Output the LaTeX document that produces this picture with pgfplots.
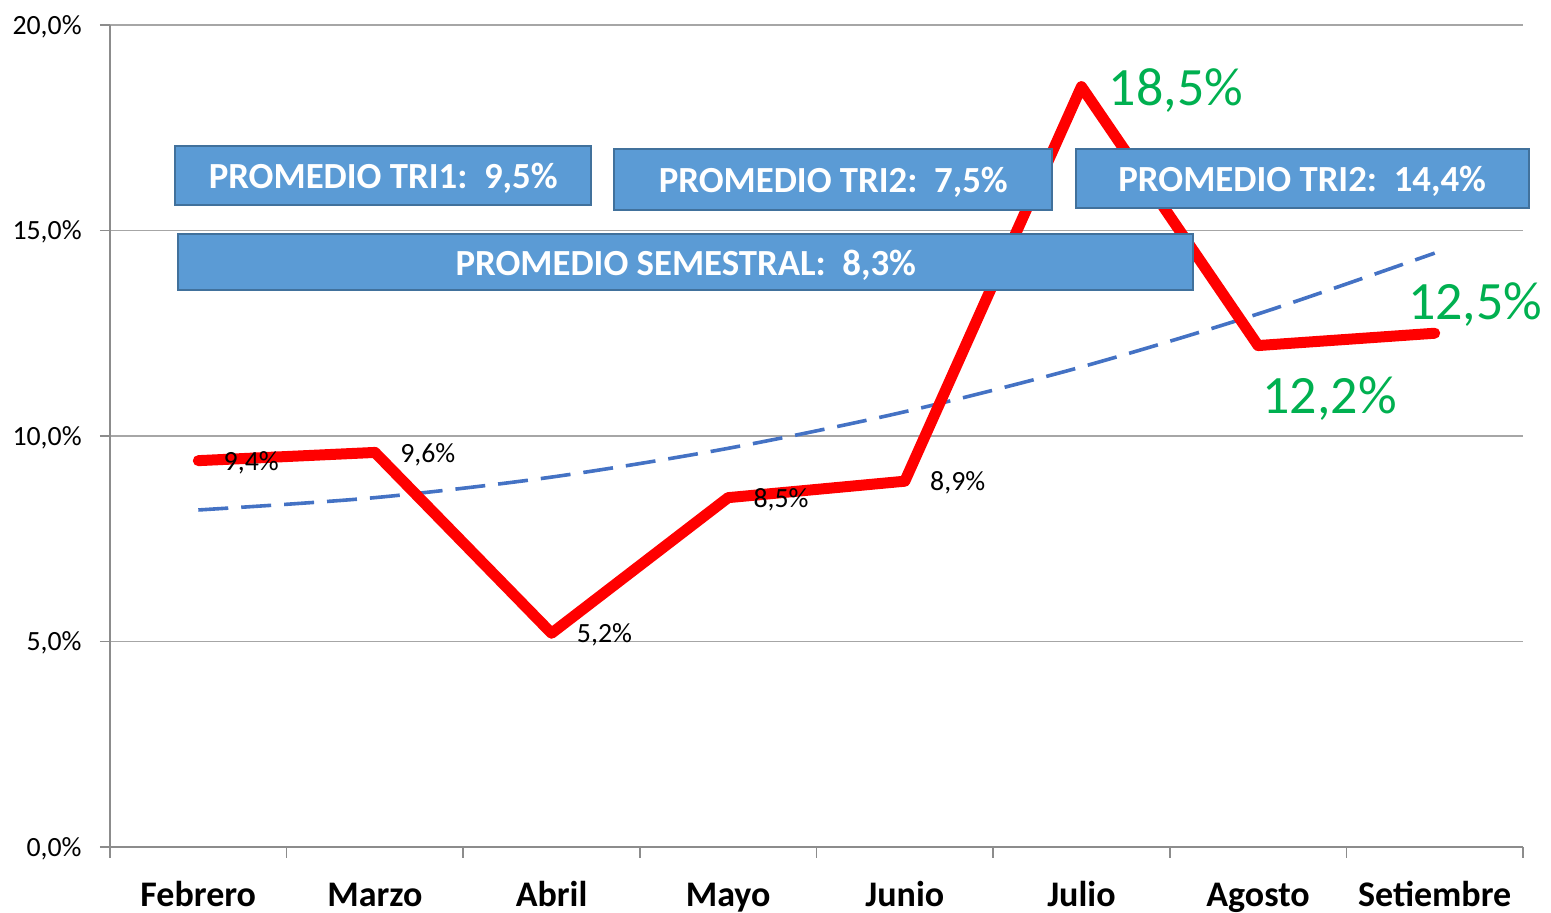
\documentclass[border=0pt]{standalone}
\usepackage{fontspec}
\setmainfont{Carlito}
\usepackage{pgfplots}
\pgfplotsset{compat=1.18}
\definecolor{redl}{HTML}{FF0000}
\definecolor{trend}{HTML}{4472C4}
\definecolor{boxfill}{HTML}{5B9BD5}
\definecolor{boxdraw}{HTML}{41719C}
\definecolor{greenl}{HTML}{00B050}
\definecolor{gridc}{HTML}{A6A6A6}
\definecolor{axisc}{HTML}{8C8C8C}
\begin{document}
\begin{tikzpicture}
\begin{axis}[
  at={(0,0)}, anchor=south west,
  scale only axis, width=706.5pt, height=411pt,
  xmin=-0.5, xmax=7.5, ymin=0, ymax=20,
  clip=false,
  /pgf/number format/assume math mode=true,
  axis x line*=bottom, axis y line*=left,
  axis line style={draw=axisc, line width=0.8pt, -},
  ymajorgrids, grid style={draw=gridc, line width=0.8pt},
  ytick={0,5,10,15,20},
  yticklabel={\pgfmathprintnumber[fixed,fixed zerofill,precision=1,use comma]{\tick}\%},
  yticklabel style={font=\fontsize{13.9}{16}\selectfont, anchor=base east, inner sep=0pt, xshift=-9pt, yshift=-4.6pt},
  xtick={0,...,7},
  xticklabels={Febrero,Marzo,Abril,Mayo,Junio,Julio,Agosto,Setiembre},
  xticklabel style={font=\fontsize{18}{21}\selectfont\bfseries, anchor=base, inner sep=0pt, yshift=-25pt},
  minor xtick={-0.5,0.5,...,7.5},
  tick align=outside,
  major tick length=5pt, minor tick length=5.5pt,
  major x tick style={draw=none},
  tick style={draw=axisc, line width=0.8pt},
  minor tick style={draw=axisc, line width=0.8pt},
]
% trend line
\addplot[trend, line width=1.8pt, dash pattern=on 15pt off 6.5pt, smooth, mark=none]
  coordinates {(0,8.20)(1,8.50)(2,9.00)(3,9.70)(4,10.59)(5,11.68)(6,12.97)(7,14.45)};
% main series
\addplot[redl, line width=5.5pt, line join=round, line cap=round, mark=none]
  coordinates {(0,9.4)(1,9.6)(2,5.2)(3,8.5)(4,8.9)(5,18.5)(6,12.2)(7,12.5)};
% black data labels
\addplot[draw=none, mark=none, point meta=y,
  nodes near coords={\pgfmathprintnumber[fixed,fixed zerofill,precision=1,use comma]{\pgfplotspointmeta}\%},
  nodes near coords style={anchor=west, inner sep=0pt, xshift=12.5pt, yshift=-1pt, font=\fontsize{13.9}{16}\selectfont, text=black}]
  coordinates {(0,9.4)(1,9.6)(2,5.2)(3,8.5)(4,8.9)};
% green labels
\addplot[draw=none, mark=none, point meta=y,
  nodes near coords={\pgfmathprintnumber[fixed,fixed zerofill,precision=1,use comma]{\pgfplotspointmeta}\%},
  nodes near coords style={anchor=west, inner sep=0pt, xshift=13.5pt, yshift=-2pt, font=\fontsize{27}{32}\selectfont, text=greenl}]
  coordinates {(5,18.5)};
\addplot[draw=none, mark=none, point meta=y,
  nodes near coords={\pgfmathprintnumber[fixed,fixed zerofill,precision=1,use comma]{\pgfplotspointmeta}\%},
  nodes near coords style={anchor=north west, inner sep=0pt, xshift=2pt, yshift=-15.5pt, font=\fontsize{27}{32}\selectfont, text=greenl}]
  coordinates {(6,12.2)};
\addplot[draw=none, mark=none, point meta=y,
  nodes near coords={\pgfmathprintnumber[fixed,fixed zerofill,precision=1,use comma]{\pgfplotspointmeta}\%},
  nodes near coords style={anchor=base west, inner sep=0pt, xshift=-13.5pt, yshift=7pt, font=\fontsize{27}{32}\selectfont, text=greenl}]
  coordinates {(7,12.5)};
% boxes
\tikzset{pbox/.style={fill=boxfill, draw=boxdraw, line width=1pt, inner sep=0pt, text height=13pt, text depth=0pt, text=white, font=\fontsize{18.4}{22}\selectfont\bfseries}}
\node[pbox, minimum width=208pt, minimum height=29.5pt] at (axis cs:1.047,16.34) {PROMEDIO TRI1:~~9,5\%};
\node[pbox, minimum width=219pt, minimum height=30.5pt] at (axis cs:3.595,16.24) {PROMEDIO TRI2:~~7,5\%};
\node[pbox, minimum width=226.5pt, minimum height=29.5pt] at (axis cs:6.25,16.26) {PROMEDIO TRI2:~~14,4\%};
\node[pbox, minimum width=507.5pt, minimum height=28pt] at (axis cs:2.76,14.23) {PROMEDIO SEMESTRAL:~~8,3\%};
\end{axis}
\pgfresetboundingbox
\useasboundingbox (-55pt,-33pt) rectangle (720.5pt,423.5pt);
\end{tikzpicture}
\end{document}
